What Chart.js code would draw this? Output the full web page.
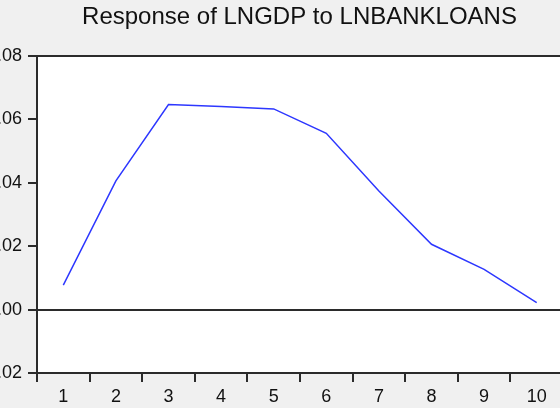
<!DOCTYPE html>
<html>
<head>
<meta charset="utf-8">
<script src="https://cdn.jsdelivr.net/npm/chart.js@4/dist/chart.umd.min.js"></script>
<style>
    html, body { margin: 0; padding: 0; background: #f0f0f0; overflow: hidden; width: 560px; height: 408px; }
    #irf-chart { position: absolute; left: -13px; top: 0; }
</style>
</head>
<body>
<canvas id="irf-chart" width="625" height="408"></canvas>
<script>
const periods = ['1', '2', '3', '4', '5', '6', '7', '8', '9', '10'];
const responseValues = [0.0077, 0.0406, 0.0647, 0.0641, 0.0633, 0.0556, 0.0374, 0.0206, 0.0127, 0.0022];
const yTickLabels = ['-.02', '.00', '.02', '.04', '.06', '.08'];

const axisColor = '#2b2b2b';
const textColor = '#111';
const fontFamily = 'Liberation Sans, Arial, sans-serif';

// white plot area + frame around it
const plotFrame = {
    id: 'plotFrame',
    beforeDraw(chart) {
        const a = chart.chartArea;
        const c = chart.ctx;
        c.save();
        c.fillStyle = '#fff';
        c.fillRect(a.left, a.top, a.right - a.left, a.bottom - a.top);
        c.restore();
    },
    afterDraw(chart) {
        const a = chart.chartArea;
        const c = chart.ctx;
        c.save();
        c.strokeStyle = axisColor;
        c.lineWidth = 2;
        c.strokeRect(a.left, a.top, a.right - a.left, a.bottom - a.top);
        c.restore();
    }
};

const ctx = document.getElementById('irf-chart').getContext('2d');

new Chart(ctx, {
    type: 'line',
    data: {
        labels: periods,
        datasets: [{
            data: responseValues,
            borderColor: 'rgb(45, 55, 255)',
            borderWidth: 1.5,
            pointRadius: 0,
            tension: 0,
            fill: false
        }]
    },
    options: {
        responsive: false,
        animation: false,
        layout: { padding: 0 },
        plugins: {
            legend: { display: false },
            tooltip: { enabled: false },
            title: {
                display: true,
                text: 'Response of LNGDP to LNBANKLOANS',
                color: textColor,
                font: { family: fontFamily, size: 24, weight: 'normal' },
                padding: { top: 3, bottom: 24.2 }
            }
        },
        scales: {
            x: {
                type: 'category',
                offset: true,
                afterFit(scale) { scale.height = 35; },
                grid: {
                    offset: true,
                    drawOnChartArea: false,
                    tickLength: 9,
                    color: axisColor,
                    lineWidth: 2
                },
                border: { display: true, color: axisColor, width: 2 },
                ticks: {
                    color: textColor,
                    padding: 4,
                    maxRotation: 0,
                    font: { family: fontFamily, size: 18 }
                }
            },
            y: {
                min: -0.02,
                max: 0.08,
                afterFit(scale) { scale.width = 50; },
                grid: {
                    drawOnChartArea: true,
                    tickLength: 9,
                    color: c => (c.tick && Math.abs(c.tick.value) < 1e-9) ? axisColor : 'rgba(0,0,0,0)',
                    tickColor: axisColor,
                    lineWidth: 2
                },
                border: { display: true, color: axisColor, width: 2 },
                ticks: {
                    stepSize: 0.02,
                    color: textColor,
                    padding: 6,
                    font: { family: fontFamily, size: 18 },
                    callback: (value, index) => yTickLabels[index]
                }
            },
            // empty right-hand spacer so the title stays centred where it is in the original
            spacer: {
                type: 'linear',
                position: 'right',
                afterFit(scale) { scale.width = 49; },
                grid: { display: false },
                border: { display: false },
                ticks: { display: false }
            }
        }
    },
    plugins: [plotFrame]
});
</script>
</body>
</html>
